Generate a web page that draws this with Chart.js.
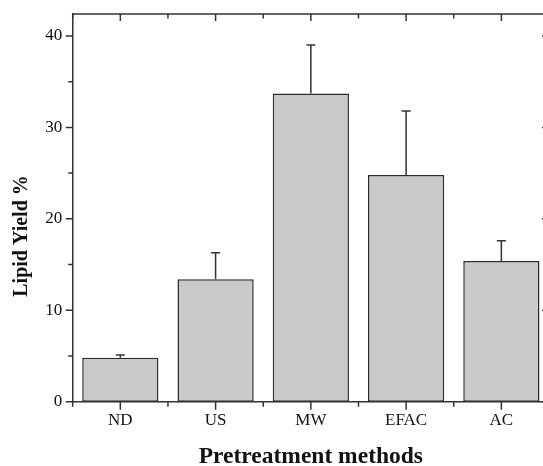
<!DOCTYPE html>
<html>
<head>
<meta charset="utf-8">
<script src="https://cdn.jsdelivr.net/npm/chart.js@4.4.1/dist/chart.umd.min.js"></script>
<style>
  html, body { margin: 0; padding: 0; background: #fff; overflow: hidden; }
  #wrap { width: 560px; height: 466px; }
</style>
</head>
<body>
<div id="wrap"><canvas id="grafico" width="560" height="466"></canvas></div>
<script>
// pretreatment methods and lipid yield (%)
var metodos = ['ND', 'US', 'MW', 'EFAC', 'AC'];
var rendimiento = [4.8, 13.4, 33.7, 24.8, 15.4];
var errores = [0.3, 2.9, 5.3, 7.0, 2.2];
var marcasY = [0, 10, 20, 30, 40];

var colorEje = '#333333';
var colorTexto = '#111111';

// ticks, frame, error bars and y title
var extras = {
    id: 'extras',
    afterDatasetsDraw: function(chart) {
        var ctx = chart.ctx;
        var y = chart.scales.y;
        var meta = chart.getDatasetMeta(0);
        ctx.save();
        ctx.strokeStyle = colorEje;
        ctx.lineWidth = 1.5;
        meta.data.forEach(function(bar, i) {
            var y0 = y.getPixelForValue(rendimiento[i]);
            var y1 = y.getPixelForValue(rendimiento[i] + errores[i]);
            ctx.beginPath();
            ctx.moveTo(bar.x, y0);
            ctx.lineTo(bar.x, y1);
            ctx.moveTo(bar.x - 4.5, y1);
            ctx.lineTo(bar.x + 4.5, y1);
            ctx.stroke();
        });
        ctx.restore();
    },
    afterDraw: function(chart) {
        var ctx = chart.ctx;
        var a = chart.chartArea;
        var x = chart.scales.x;
        var y = chart.scales.y;
        ctx.save();
        ctx.strokeStyle = colorEje;
        ctx.lineWidth = 1.5;

        // frame top and right
        ctx.beginPath();
        ctx.moveTo(a.left, a.top);
        ctx.lineTo(a.right, a.top);
        ctx.lineTo(a.right, a.bottom);
        ctx.stroke();

        // y ticks: outward on the left, inward on the right
        for (var v = 0; v <= 40; v += 5) {
            var py = y.getPixelForValue(v);
            var largo = (v % 10 === 0) ? 7 : 4.5;
            ctx.beginPath();
            ctx.moveTo(a.left - largo, py);
            ctx.lineTo(a.left, py);
            ctx.moveTo(a.right - largo, py);
            ctx.lineTo(a.right, py);
            ctx.stroke();
        }

        // x ticks: outward at the bottom, inward at the top
        for (var i = 0; i <= metodos.length * 2; i++) {
            var pos = i / 2 - 0.5;
            var px = x.getPixelForValue(pos);
            var mayor = (i % 2 === 1);
            ctx.beginPath();
            ctx.moveTo(px, a.bottom);
            ctx.lineTo(px, a.bottom + (mayor ? 8 : 5));
            ctx.moveTo(px, a.top);
            ctx.lineTo(px, a.top + (mayor ? 7 : 4.5));
            ctx.stroke();
        }

        // y axis title
        ctx.fillStyle = colorTexto;
        ctx.font = 'bold 20px "Liberation Serif"';
        ctx.textAlign = 'center';
        ctx.textBaseline = 'middle';
        ctx.translate(22, 236);
        ctx.rotate(-Math.PI / 2);
        ctx.fillText('Lipid Yield %', 0, 0);
        ctx.restore();
    }
};

var config = {
    type: 'bar',
    data: {
        labels: metodos,
        datasets: [{
            label: 'Lipid Yield %',
            data: rendimiento,
            backgroundColor: '#c8c9cb',
            borderColor: '#2b2b2b',
            borderWidth: 1.5,
            borderSkipped: false,
            barPercentage: 0.8,
            categoryPercentage: 1
        }]
    },
    options: {
        responsive: false,
        animation: false,
        layout: { padding: { top: 14, right: 11, left: 0, bottom: 0 } },
        plugins: {
            legend: { display: false },
            tooltip: { enabled: false }
        },
        scales: {
            x: {
                grid: { display: false, drawTicks: false },
                border: { display: true, color: colorEje, width: 1.5 },
                ticks: {
                    color: colorTexto,
                    padding: 9,
                    maxRotation: 0,
                    font: { family: '"Liberation Serif"', size: 17 }
                },
                title: {
                    display: true,
                    text: 'Pretreatment methods',
                    color: colorTexto,
                    padding: 0,
                    font: { family: '"Liberation Serif"', size: 23.5, weight: 'bold', lineHeight: 0.8 }
                },
                afterFit: function(scale) {
                    scale.height = 64.3;
                    scale.paddingLeft = 0;
                    scale.paddingRight = 0;
                }
            },
            y: {
                min: 0,
                max: 42.4,
                grid: { display: false, drawTicks: false },
                border: { display: true, color: colorEje, width: 1.5 },
                afterBuildTicks: function(scale) {
                    scale.ticks = marcasY.map(function(v) { return { value: v }; });
                },
                ticks: {
                    color: colorTexto,
                    padding: 10.5,
                    font: { family: '"Liberation Serif"', size: 17 }
                },
                afterFit: function(scale) {
                    scale.width = 72.7;
                    scale.paddingTop = 0;
                    scale.paddingBottom = 0;
                }
            }
        }
    },
    plugins: [extras]
};

window.myBars = new Chart(document.getElementById('grafico'), config);
</script>
</body>
</html>
